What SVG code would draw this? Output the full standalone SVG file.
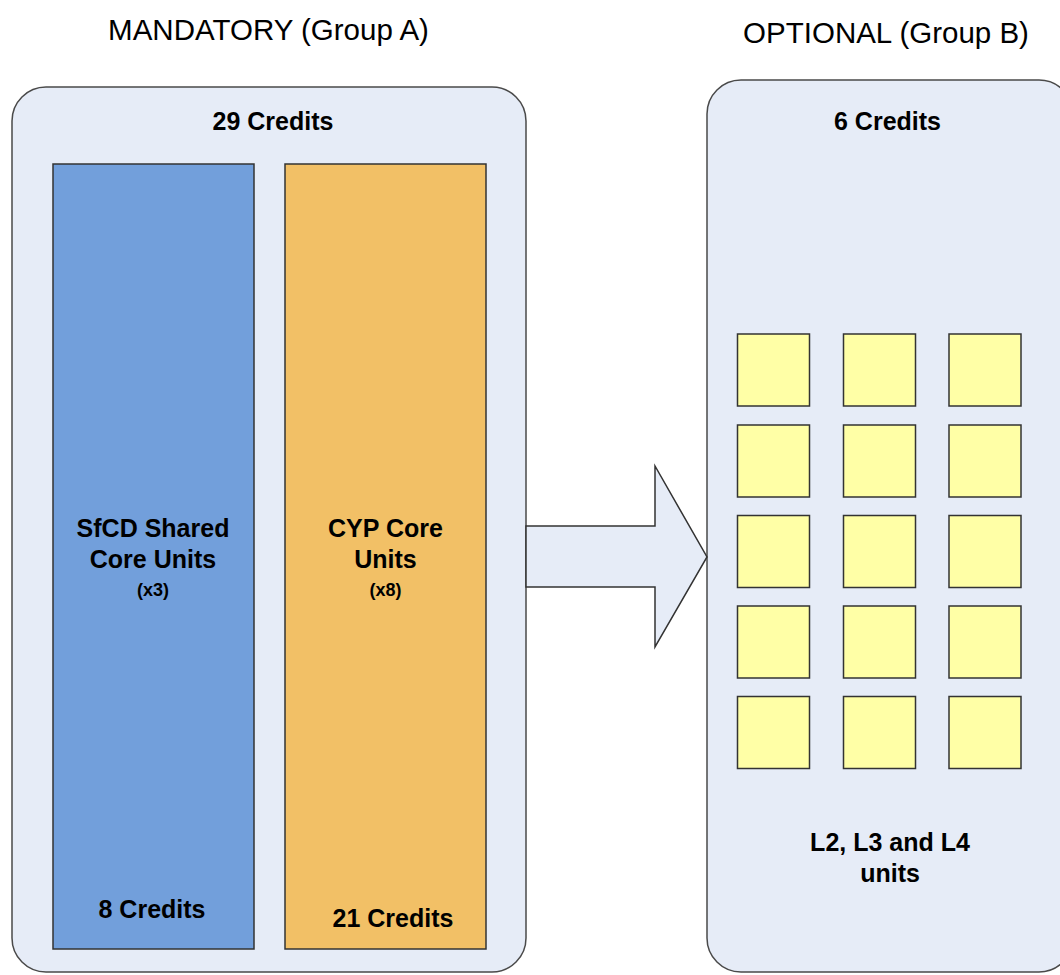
<svg xmlns="http://www.w3.org/2000/svg" width="1060" height="975" viewBox="0 0 1060 975">
<style>
  .panel{fill:#E6ECF7;stroke:#4a4a4a;stroke-width:1.5}
  .sq{fill:#FFFFA6;stroke:#333;stroke-width:1.5}
  .title{font-family:"Liberation Sans",Arial,sans-serif;font-size:29.5px;fill:#000;text-anchor:middle}
  .b{font-family:"Liberation Sans",Arial,sans-serif;font-size:25px;font-weight:bold;fill:#000;text-anchor:middle}
  .s{font-family:"Liberation Sans",Arial,sans-serif;font-size:18px;font-weight:bold;fill:#000;text-anchor:middle}
</style>
<rect width="1060" height="975" fill="#fff"/>
<text class="title" x="268.5" y="40">MANDATORY (Group A)</text>
<text class="title" x="886" y="43">OPTIONAL (Group B)</text>

<g id="groupA">
  <rect class="panel" x="12" y="87" width="514" height="885" rx="34" ry="34"/>
  <text class="b" x="273" y="130">29 Credits</text>
</g>
<g id="sfcd">
  <rect x="53" y="164" width="201" height="785" fill="#729FDB" stroke="#333" stroke-width="1.5"/>
  <text class="b" x="153" y="537">SfCD Shared</text>
  <text class="b" x="153" y="568">Core Units</text>
  <text class="s" x="153" y="596">(x3)</text>
  <text class="b" x="152" y="918">8 Credits</text>
</g>
<g id="cyp">
  <rect x="285" y="164" width="201" height="785" fill="#F2C066" stroke="#333" stroke-width="1.5"/>
  <text class="b" x="385.5" y="537">CYP Core</text>
  <text class="b" x="385.5" y="568">Units</text>
  <text class="s" x="385.5" y="596">(x8)</text>
  <text class="b" x="393" y="927">21 Credits</text>
</g>

<g id="groupB">
  <rect class="panel" x="707" y="80" width="366" height="892" rx="34" ry="34"/>
  <text class="b" x="887.5" y="130">6 Credits</text>
  <text class="b" x="890" y="851">L2, L3 and L4</text>
  <text class="b" x="890" y="882">units</text>
</g>
<g id="units">
  <rect class="sq" x="737.5" y="334" width="72" height="72"/>
  <rect class="sq" x="843.5" y="334" width="72" height="72"/>
  <rect class="sq" x="949" y="334" width="72" height="72"/>
  <rect class="sq" x="737.5" y="425" width="72" height="72"/>
  <rect class="sq" x="843.5" y="425" width="72" height="72"/>
  <rect class="sq" x="949" y="425" width="72" height="72"/>
  <rect class="sq" x="737.5" y="515.5" width="72" height="72"/>
  <rect class="sq" x="843.5" y="515.5" width="72" height="72"/>
  <rect class="sq" x="949" y="515.5" width="72" height="72"/>
  <rect class="sq" x="737.5" y="606" width="72" height="72"/>
  <rect class="sq" x="843.5" y="606" width="72" height="72"/>
  <rect class="sq" x="949" y="606" width="72" height="72"/>
  <rect class="sq" x="737.5" y="696.5" width="72" height="72"/>
  <rect class="sq" x="843.5" y="696.5" width="72" height="72"/>
  <rect class="sq" x="949" y="696.5" width="72" height="72"/>
</g>

<g id="connectors">
  <polygon points="526,526 655,526 655,466 707,557 655,647 655,587 526,587" fill="#E6ECF7" stroke="#333" stroke-width="1.5" stroke-linejoin="miter"/>
</g>
</svg>
